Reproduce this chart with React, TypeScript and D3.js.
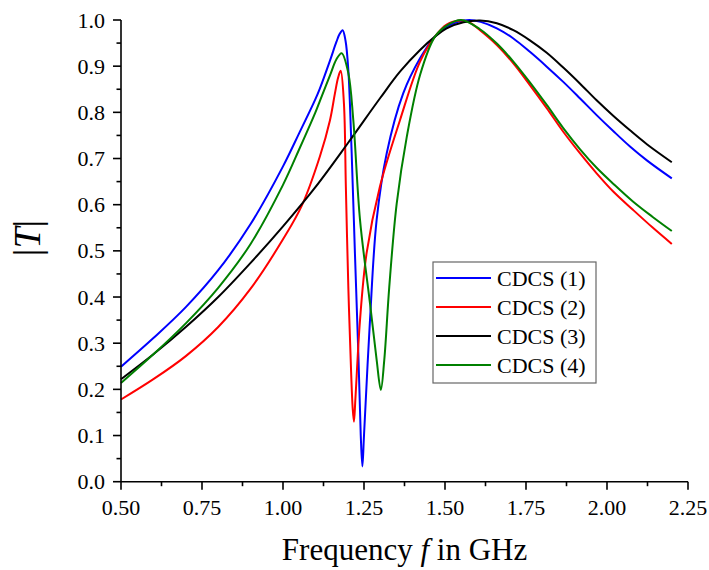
import React from "react";
import * as d3 from "d3";

// Tick values
const xTicks = [0.5, 0.75, 1.0, 1.25, 1.5, 1.75, 2.0, 2.25];
const yTicks = [0, 0.1, 0.2, 0.3, 0.4, 0.5, 0.6, 0.7, 0.8, 0.9, 1.0];
const seriesNames = ["CDCS (1)", "CDCS (2)", "CDCS (3)", "CDCS (4)"];
const seriesColors = ["#0000ff", "#ff0000", "#000000", "#008000"];

// CDCS (1)
const freq1 = [0.5, 0.6, 0.7, 0.8, 0.9, 1.0, 1.05, 1.099, 1.114, 1.145, 1.165, 1.175, 1.184, 1.193, 1.2016, 1.212, 1.222, 1.2325, 1.24, 1.245, 1.25, 1.2685, 1.289, 1.32, 1.371, 1.423, 1.469, 1.505, 1.54, 1.575, 1.61, 1.66, 1.711, 1.762, 1.814, 1.865, 1.917, 1.968, 2.02, 2.071, 2.123, 2.2];
const cdcs1 = [0.249, 0.311, 0.378, 0.458, 0.558, 0.683, 0.755, 0.827, 0.852, 0.912, 0.953, 0.97, 0.978, 0.955, 0.892, 0.711, 0.495, 0.278, 0.1, 0.033, 0.1, 0.35, 0.567, 0.711, 0.841, 0.917, 0.964, 0.985, 0.996, 1.0, 0.996, 0.982, 0.96, 0.931, 0.899, 0.866, 0.83, 0.794, 0.759, 0.726, 0.696, 0.657];

// CDCS (2)
const freq2 = [0.5, 0.6, 0.7, 0.8, 0.9, 1.0, 1.058, 1.114, 1.145, 1.16, 1.17, 1.178, 1.188, 1.194, 1.2016, 1.21, 1.215, 1.219, 1.2235, 1.2377, 1.258, 1.299, 1.361, 1.423, 1.469, 1.505, 1.546, 1.575, 1.608, 1.66, 1.711, 1.762, 1.814, 1.865, 1.917, 1.968, 2.02, 2.08, 2.14, 2.2];
const cdcs2 = [0.178, 0.222, 0.272, 0.335, 0.418, 0.525, 0.598, 0.705, 0.783, 0.84, 0.875, 0.89, 0.82, 0.639, 0.422, 0.242, 0.16, 0.13, 0.18, 0.35, 0.495, 0.639, 0.783, 0.91, 0.964, 0.99, 0.999, 0.995, 0.978, 0.946, 0.906, 0.859, 0.809, 0.758, 0.711, 0.668, 0.628, 0.589, 0.551, 0.515];

// CDCS (3)
const freq3 = [0.5, 0.6, 0.7, 0.8, 0.9, 1.0, 1.1, 1.2, 1.3, 1.361, 1.423, 1.469, 1.505, 1.557, 1.608, 1.66, 1.711, 1.762, 1.814, 1.865, 1.917, 1.968, 2.02, 2.071, 2.123, 2.2];
const cdcs3 = [0.222, 0.276, 0.335, 0.4, 0.474, 0.553, 0.638, 0.733, 0.831, 0.888, 0.935, 0.964, 0.982, 0.995, 0.999, 0.993, 0.978, 0.956, 0.929, 0.897, 0.862, 0.826, 0.792, 0.761, 0.731, 0.692];

// CDCS (4)
const freq4 = [0.5, 0.6, 0.7, 0.8, 0.9, 1.0, 1.05, 1.1, 1.114, 1.145, 1.165, 1.181, 1.2016, 1.217, 1.2377, 1.2685, 1.289, 1.302, 1.3126, 1.328, 1.351, 1.382, 1.423, 1.469, 1.505, 1.55, 1.608, 1.66, 1.711, 1.762, 1.814, 1.865, 1.917, 1.968, 2.02, 2.08, 2.14, 2.2];
const cdcs4 = [0.214, 0.276, 0.343, 0.42, 0.515, 0.643, 0.72, 0.8, 0.825, 0.88, 0.915, 0.928, 0.885, 0.783, 0.567, 0.386, 0.264, 0.199, 0.264, 0.422, 0.603, 0.747, 0.881, 0.964, 0.988, 1.0, 0.98, 0.949, 0.91, 0.865, 0.816, 0.766, 0.72, 0.68, 0.645, 0.607, 0.574, 0.543];

const allFreq = [freq1, freq2, freq3, freq4];
const allT = [cdcs1, cdcs2, cdcs3, cdcs4];

const FONT = "'Liberation Serif', 'Times New Roman', serif";

export default function App() {
  const W = 709, H = 570;
  const x = d3.scaleLinear().domain([0.5, 2.25]).range([121, 688]);
  const y = d3.scaleLinear().domain([0, 1]).range([481.7, 20]);

  const line = d3
    .line<[number, number]>()
    .x((d) => x(d[0]))
    .y((d) => y(d[1]))
    .curve(d3.curveCatmullRom.alpha(0.5));

  const xMinor = xTicks.slice(0, -1).map((t) => t + 0.125);
  const yMinor = yTicks.slice(0, -1).map((t) => t + 0.05);

  const x0 = x(0.5), y0 = y(0);

  const legX = 433, legY = 262, legW = 163, legH = 121;
  const rowY = [278, 307, 336, 365];

  return (
    <svg width={W} height={H} style={{ position: "absolute", left: 0, top: 0, background: "#fff" }} fontFamily={FONT}>
      <rect x={0} y={0} width={W} height={H} fill="#fff" />
      {/* curves */}
      {allFreq.map((fs, i) => (
        <path
          key={i}
          d={line(fs.map((f, j) => [f, allT[i][j]] as [number, number])) || ""}
          fill="none"
          stroke={seriesColors[i]}
          strokeWidth={2}
          strokeLinejoin="round"
        />
      ))}
      {/* axes */}
      <line x1={x0} x2={x(2.25)} y1={y0} y2={y0} stroke="#000" strokeWidth={1.6} />
      <line x1={x0} x2={x0} y1={y0} y2={y(1)} stroke="#000" strokeWidth={1.6} />
      {xTicks.map((t) => (
        <g key={"xt" + t}>
          <line x1={x(t)} x2={x(t)} y1={y0} y2={y0 + 8} stroke="#000" strokeWidth={1.6} />
          <text x={x(t)} y={515} textAnchor="middle" fontSize={22}>{t.toFixed(2)}</text>
        </g>
      ))}
      {xMinor.map((t) => (
        <line key={"xm" + t} x1={x(t)} x2={x(t)} y1={y0} y2={y0 + 4.5} stroke="#000" strokeWidth={1.6} />
      ))}
      {yTicks.map((t) => (
        <g key={"yt" + t}>
          <line x1={x0 - 8} x2={x0} y1={y(t)} y2={y(t)} stroke="#000" strokeWidth={1.6} />
          <text x={105} y={y(t) + 7.5} textAnchor="end" fontSize={22}>{t.toFixed(1)}</text>
        </g>
      ))}
      {yMinor.map((t) => (
        <line key={"ym" + t} x1={x0 - 4.5} x2={x0} y1={y(t)} y2={y(t)} stroke="#000" strokeWidth={1.6} />
      ))}
      {/* axis titles */}
      <text x={(x0 + x(2.25)) / 2} y={560} textAnchor="middle" fontSize={31}>
        Frequency <tspan fontStyle="italic">f</tspan> in GHz
      </text>
      <text transform={`translate(40,238) rotate(-90)`} textAnchor="middle" fontSize={38}>
        |<tspan fontStyle="italic">T</tspan>|
      </text>
      {/* legend */}
      <rect x={legX} y={legY} width={legW} height={legH} fill="#fff" stroke="#666" strokeWidth={1.2} />
      {seriesNames.map((n, i) => (
        <g key={n}>
          <line x1={436} x2={491} y1={rowY[i]} y2={rowY[i]} stroke={seriesColors[i]} strokeWidth={2} />
          <text x={497} y={rowY[i] + 7.5} fontSize={22}>{n}</text>
        </g>
      ))}
    </svg>
  );
}
